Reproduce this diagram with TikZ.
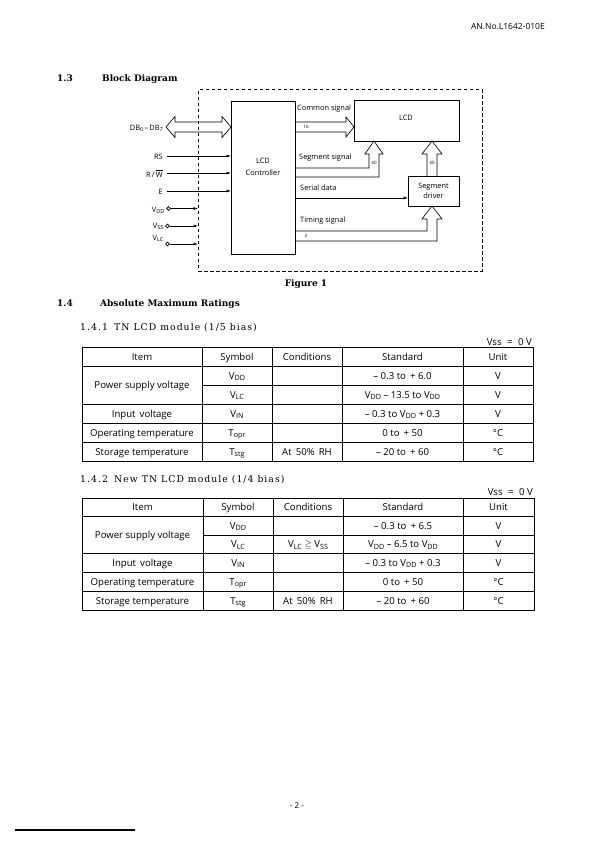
\documentclass[tikz,border=0pt]{standalone}
\usepackage{fontspec}
\usepackage{amssymb}
\setmainfont{Open Sans}
\newfontfamily\hdfont{DejaVu Serif}
\newfontfamily\hdsp[LetterSpace=11]{DejaVu Serif}
\usetikzlibrary{arrows.meta}
\newcommand\tfont{\fontsize{9.6}{11.5}\selectfont}
\newcommand\dfont{\fontsize{7.4}{8.8}\selectfont}
\newcommand\sbs[1]{\raisebox{-0.3ex}{\fontsize{7.2}{8}\selectfont #1}}
\newcommand\sbsd[1]{\raisebox{-0.3ex}{\fontsize{5.5}{6}\selectfont #1}}
\newcounter{cellno}
\newcommand\cell[3]{\stepcounter{cellno}\node[tx] (cell\arabic{cellno}) at (#1,#2) {#3};}
\tikzset{
  lbl/.style={inner sep=0pt, font=\dfont},
  tiny/.style={inner sep=0pt, font=\fontsize{4.5}{5}\selectfont},
  tx/.style={inner sep=0pt, anchor=base, font=\tfont},
  arr/.style={-{Latex[length=4.5pt,width=3pt]}, line width=0.6pt},
  box/.style={draw, line width=0.75pt, inner sep=0pt},
  hol/.style={line width=0.65pt, line join=miter},
  grid/.style={line width=1pt},
  hdb/.style={inner sep=0pt, anchor=base west, font=\hdfont\bfseries\fontsize{9}{11}\selectfont},
  hdr/.style={inner sep=0pt, anchor=base west, font=\hdsp\fontsize{9.3}{11}\selectfont},
}
\begin{document}
\begin{tikzpicture}[x=1pt,y=-1pt]
\useasboundingbox[fill=white] (0,0) rectangle (595,842);

% page header
\node[inner sep=0pt, anchor=base east, font=\fontsize{8.5}{10}\selectfont] (hdr) at (545,30) {AN.No.L1642-010E};

% section 1.3
\node[hdb] (s13) at (57,82) {1.3};
\node[hdb] (s13t) at (102,82) {Block Diagram};

% dashed frame
\node[draw, dash pattern=on 3.5pt off 2.5pt, line width=0.7pt, minimum width=284pt, minimum height=181pt, inner sep=0pt, anchor=north west] (dbox) at (198,89.5) {};

% boxes
\node[box, minimum width=64pt, minimum height=153pt, anchor=north west] (ctl) at (231,101) {};
\node[lbl, align=center] (ctlt) at (263,167) {LCD\\[3pt]Controller};
\node[box, minimum width=105pt, minimum height=41pt, anchor=north west] (lcd) at (354,100) {};
\node[lbl] (lcdt) at (406,118) {LCD};
\node[box, minimum width=51pt, minimum height=30pt, anchor=north west] (drv) at (408,176) {};
\node[lbl, align=center] (drvt) at (433.5,190.5) {Segment\\[1pt]driver};

% data bus
\node[lbl, anchor=east] (db) at (163,128) {DB\sbsd{0}\,–\,DB\sbsd{7}};
\draw[hol] (166,127) -- (175,116.5) -- (175,122) -- (222,122) -- (222,116.5) -- (231,127) -- (222,137.5) -- (222,132) -- (175,132) -- (175,137.5) -- cycle;

% control inputs
\node[lbl, anchor=east] (rs) at (163,156.5) {RS};
\draw[arr] (167,156) -- (ctl.west |- 0,156);
\node[lbl, anchor=east] (rw) at (163,173.5) {R\,/\,$\overline{\hbox{W}}$};
\draw[arr] (167,173) -- (ctl.west |- 0,173);
\node[lbl, anchor=east] (en) at (163,191.5) {E};
\draw[arr] (167,191) -- (ctl.west |- 0,191);

% power inputs
\node[circle, draw, line width=0.6pt, inner sep=0pt, minimum size=3.8pt] (cdd) at (168.5,208.5) {};
\node[lbl, anchor=east] (vdd) at (164.5,210.5) {V\sbsd{DD}};
\draw[arr] (cdd) -- (dbox.west |- cdd);
\node[circle, draw, line width=0.6pt, inner sep=0pt, minimum size=3.8pt] (css) at (167.5,226) {};
\node[lbl, anchor=east] (vss) at (163.5,226) {V\sbsd{SS}};
\draw[arr] (css) -- (dbox.west |- css);
\node[circle, draw, line width=0.6pt, inner sep=0pt, minimum size=3.8pt] (clc) at (167.5,244) {};
\node[lbl, anchor=east] (vlc) at (163.5,238.5) {V\sbsd{LC}};
\draw[arr] (clc) -- (dbox.west |- clc);

% common signal
\node[lbl, anchor=west] (cs) at (297,108.5) {Common signal};
\draw[hol] (295,122) -- (346,122) -- (346,117) -- (354,127) -- (346,137) -- (346,132) -- (295,132);
\node[tiny] (n16) at (306,127) {16};

% segment signal
\node[lbl, anchor=west] (ss) at (299,158) {Segment signal};
\draw[hol] (295,168) -- (369,168) -- (369,154) -- (365,154) -- (374,141) -- (383,154) -- (379,154) -- (379,177) -- (295,177);
\node[tiny] (n40a) at (374,162.5) {40};

% driver to LCD
\draw[hol] (427,176) -- (427,154) -- (422,154) -- (432,141) -- (442,154) -- (437,154) -- (437,176);
\node[tiny] (n40b) at (432,162.5) {40};

% serial data
\node[lbl, anchor=west] (sd) at (300,188) {Serial data};
\draw[arr] (ctl.east |- 0,198) -- (drv.west |- 0,198);

% timing signal
\node[lbl, anchor=west] (ts) at (300,221) {Timing signal};
\draw[hol] (295,231) -- (427,231) -- (427,219) -- (422,219) -- (432,206) -- (442,219) -- (437,219) -- (437,241) -- (295,241);
\node[tiny] (n3) at (306,236) {3};

\node[inner sep=0pt, anchor=base, font=\hdfont\bfseries\fontsize{9}{11}\selectfont] (fig) at (306,286) {Figure 1};

% section 1.4
\node[hdb] (s14) at (57,306.5) {1.4};
\node[hdb] (s14t) at (100,306.5) {Absolute Maximum Ratings};
\node[hdr] (s141) at (80,330) {1.4.1};
\node[hdr] (s141t) at (114,330) {TN LCD module (1/5 bias)};

% table 1
\node[inner sep=0pt, anchor=base east, font=\tfont] (vss1) at (532,345) {Vss\hspace{3pt} =\hspace{3pt} 0 V};
\draw[grid] (82,347) rectangle (533,461);
\foreach \y in {366,404,423,442} \draw[grid] (82,\y) -- (533,\y);
\draw[grid] (202,385) -- (533,385);
\foreach \x in {202,272,342,463} \draw[grid] (\x,347) -- (\x,461);
\cell{142}{360}{Item}
\cell{237}{360}{Symbol}
\cell{307}{360}{Conditions}
\cell{402.5}{360}{Standard}
\cell{498}{360}{Unit}
\cell{142}{388.5}{Power supply voltage}
\cell{237}{379}{V\sbs{DD}}
\cell{402.5}{379}{– 0.3 to \,+ 6.0}
\cell{498}{379}{V}
\cell{237}{398}{V\sbs{LC}}
\cell{402.5}{398}{V\sbs{DD} – 13.5 to V\sbs{DD}}
\cell{498}{398}{V}
\cell{142}{417}{Input\, voltage}
\cell{237}{417}{V\sbs{IN}}
\cell{402.5}{417}{– 0.3 to V\sbs{DD} + 0.3}
\cell{498}{417}{V}
\cell{142}{436}{Operating temperature}
\cell{237}{436}{T\sbs{opr}}
\cell{402.5}{436}{0 to \,+ 50}
\cell{498}{436}{°C}
\cell{142}{455}{Storage temperature}
\cell{237}{455}{T\sbs{stg}}
\cell{307}{455}{At\, 50\%\, RH}
\cell{402.5}{455}{– 20 to \,+ 60}
\cell{498}{455}{°C}

% section 1.4.2
\node[hdr] (s142) at (80,482.5) {1.4.2};
\node[hdr] (s142t) at (114,482.5) {New TN LCD module (1/4 bias)};

% table 2
\node[inner sep=0pt, anchor=base east, font=\tfont] (vss2) at (533,495) {Vss\hspace{3pt} =\hspace{3pt} 0 V};
\draw[grid] (82,498) rectangle (534,610);
\foreach \y in {516.5,553.5,572,591} \draw[grid] (82,\y) -- (534,\y);
\draw[grid] (203,535) -- (534,535);
\foreach \x in {203,273,343,463} \draw[grid] (\x,498) -- (\x,610);
\cell{142.5}{510.7}{Item}
\cell{238}{510.7}{Symbol}
\cell{308}{510.7}{Conditions}
\cell{403}{510.7}{Standard}
\cell{498.5}{510.7}{Unit}
\cell{142.5}{538.5}{Power supply voltage}
\cell{238}{529.2}{V\sbs{DD}}
\cell{403}{529.2}{– 0.3 to \,+ 6.5}
\cell{498.5}{529.2}{V}
\cell{238}{547.7}{V\sbs{LC}}
\cell{308}{547.7}{V\sbs{LC} $\geqq$ V\sbs{SS}}
\cell{403}{547.7}{V\sbs{DD} – 6.5 to V\sbs{DD}}
\cell{498.5}{547.7}{V}
\cell{142.5}{566.2}{Input\, voltage}
\cell{238}{566.2}{V\sbs{IN}}
\cell{403}{566.2}{– 0.3 to V\sbs{DD} + 0.3}
\cell{498.5}{566.2}{V}
\cell{142.5}{585}{Operating temperature}
\cell{238}{585}{T\sbs{opr}}
\cell{403}{585}{0 to \,+ 50}
\cell{498.5}{585}{°C}
\cell{142.5}{604}{Storage temperature}
\cell{238}{604}{T\sbs{stg}}
\cell{308}{604}{At\, 50\%\, RH}
\cell{403}{604}{– 20 to \,+ 60}
\cell{498.5}{604}{°C}

% footer
\node[inner sep=0pt, font=\fontsize{8}{10}\selectfont] (pg) at (297,806) {- 2 -};
\coordinate (fl1) at (15,830);
\coordinate (fl2) at (135,830);
\draw[line width=1.1pt] (fl1) -- (fl2);
\end{tikzpicture}
\end{document}
